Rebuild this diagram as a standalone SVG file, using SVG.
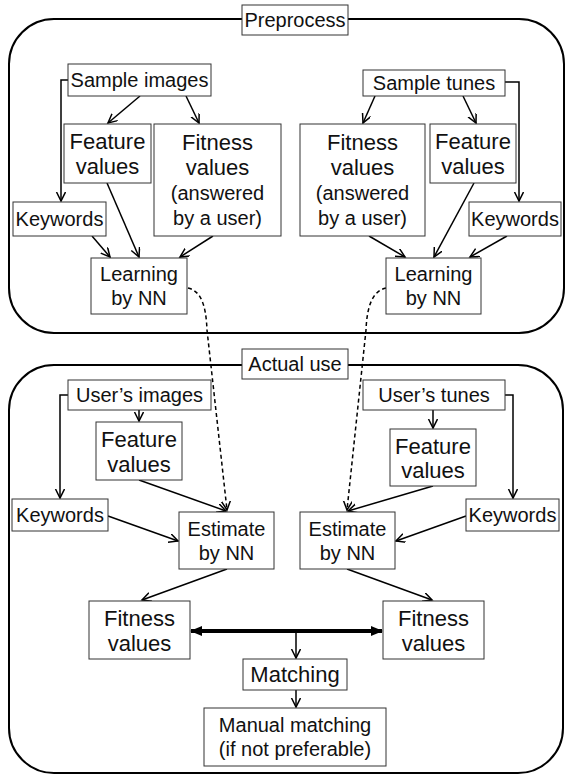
<svg xmlns="http://www.w3.org/2000/svg" width="567" height="775" viewBox="0 0 567 775">
  <defs>
    <style>
      .frame { fill: none; stroke: #000; stroke-width: 2; }
      .box { fill: #fff; stroke: #333; stroke-width: 1; }
      .t { font-family: "Liberation Sans", Arial, sans-serif; fill: #111; text-anchor: middle; }
      .s20 { font-size: 20px; }
      .s22 { font-size: 22px; }
      .c { fill: none; stroke: #000; stroke-width: 1.5; }
      .dash { stroke-dasharray: 4 3; }
      .thick { fill: none; stroke: #000; stroke-width: 4; }
    </style>
    <marker id="ah" markerUnits="userSpaceOnUse" markerWidth="12" markerHeight="12" refX="9" refY="4.5" orient="auto">
      <path d="M0,0 L9,4.5 L0,9" fill="none" stroke="#000" stroke-width="1.5"/>
    </marker>
    <marker id="bh" markerUnits="userSpaceOnUse" markerWidth="14" markerHeight="12" refX="11" refY="5" orient="auto-start-reverse">
      <path d="M0,0 L12,5 L0,10 z" fill="#000"/>
    </marker>
  </defs>

  <!-- stage frames -->
  <g id="stage-preprocess">
    <rect class="frame" x="9" y="19" width="555" height="314" rx="45" ry="45"/>
    <rect class="box" x="242" y="5" width="106" height="30"/>
    <text class="t s20" x="295" y="27">Preprocess</text>
  </g>
  <g id="stage-actual">
    <rect class="frame" x="9" y="365" width="554" height="408" rx="45" ry="45"/>
    <rect class="box" x="242" y="349" width="106" height="30"/>
    <text class="t s20" x="295" y="371">Actual use</text>
  </g>

  <!-- connectors -->
  <g id="connectors">
    <!-- preprocess, images -->
    <polyline class="c" points="68,80 61,80 61,201" marker-end="url(#ah)"/>
    <line class="c" x1="140" y1="96" x2="108" y2="123" marker-end="url(#ah)"/>
    <line class="c" x1="186" y1="96" x2="199" y2="123" marker-end="url(#ah)"/>
    <line class="c" x1="92" y1="236" x2="110" y2="257" marker-end="url(#ah)"/>
    <line class="c" x1="107" y1="183" x2="139" y2="257" marker-end="url(#ah)"/>
    <line class="c" x1="213" y1="236" x2="180" y2="257" marker-end="url(#ah)"/>
    <!-- preprocess, tunes -->
    <polyline class="c" points="505,82 519,82 519,201" marker-end="url(#ah)"/>
    <line class="c" x1="375" y1="96" x2="363" y2="123" marker-end="url(#ah)"/>
    <line class="c" x1="463" y1="96" x2="476" y2="123" marker-end="url(#ah)"/>
    <line class="c" x1="369" y1="236" x2="405" y2="257" marker-end="url(#ah)"/>
    <line class="c" x1="474" y1="183" x2="434" y2="257" marker-end="url(#ah)"/>
    <line class="c" x1="507" y1="236" x2="470" y2="257" marker-end="url(#ah)"/>
    <!-- trained networks carried into actual use -->
    <path class="c dash" d="M188,288 C201,291 206,305 207,330 L227,510" marker-end="url(#ah)"/>
    <path class="c dash" d="M386,288 C373,291 367,305 366,330 L347,510" marker-end="url(#ah)"/>
    <!-- actual use, images -->
    <line class="c" x1="139" y1="410" x2="139" y2="421" marker-end="url(#ah)"/>
    <polyline class="c" points="68,395 60,395 60,498" marker-end="url(#ah)"/>
    <line class="c" x1="139" y1="480" x2="226" y2="511" marker-end="url(#ah)"/>
    <line class="c" x1="108" y1="516" x2="178" y2="541" marker-end="url(#ah)"/>
    <line class="c" x1="227" y1="569" x2="142" y2="600" marker-end="url(#ah)"/>
    <!-- actual use, tunes -->
    <line class="c" x1="433" y1="410" x2="433" y2="428" marker-end="url(#ah)"/>
    <polyline class="c" points="505,395 513,395 513,498" marker-end="url(#ah)"/>
    <line class="c" x1="433" y1="486" x2="348" y2="511" marker-end="url(#ah)"/>
    <line class="c" x1="466" y1="516" x2="396" y2="541" marker-end="url(#ah)"/>
    <line class="c" x1="347" y1="569" x2="432" y2="600" marker-end="url(#ah)"/>
    <!-- matching -->
    <line class="thick" x1="191" y1="631" x2="382" y2="631" marker-start="url(#bh)" marker-end="url(#bh)"/>
    <line class="c" x1="296" y1="631" x2="296" y2="658" marker-end="url(#ah)"/>
    <line class="c" x1="296" y1="690" x2="296" y2="707" marker-end="url(#ah)"/>
  </g>

  <!-- preprocess nodes -->
  <g id="sample-images">
    <rect class="box" x="68" y="64" width="143" height="32"/>
    <text class="t s20" x="139.5" y="87">Sample images</text>
  </g>
  <g id="feature-values-img">
    <rect class="box" x="64" y="124" width="87" height="59"/>
    <text class="t s22" x="107.5" y="149">Feature</text>
    <text class="t s22" x="107.5" y="174">values</text>
  </g>
  <g id="fitness-values-img">
    <rect class="box" x="154" y="124" width="127" height="112"/>
    <text class="t s22" x="217.5" y="150">Fitness</text>
    <text class="t s22" x="217.5" y="175">values</text>
    <text class="t s20" x="217.5" y="200">(answered</text>
    <text class="t s20" x="217.5" y="225">by a user)</text>
  </g>
  <g id="keywords-img">
    <rect class="box" x="13" y="202" width="93" height="34"/>
    <text class="t s20" x="59.5" y="226">Keywords</text>
  </g>
  <g id="learning-img">
    <rect class="box" x="91" y="258" width="96" height="56"/>
    <text class="t s20" x="139" y="281">Learning</text>
    <text class="t s20" x="139" y="305">by NN</text>
  </g>

  <g id="sample-tunes">
    <rect class="box" x="363" y="70" width="142" height="26"/>
    <text class="t s20" x="434" y="90">Sample tunes</text>
  </g>
  <g id="fitness-values-tune">
    <rect class="box" x="300" y="124" width="125" height="112"/>
    <text class="t s22" x="362.5" y="150">Fitness</text>
    <text class="t s22" x="362.5" y="175">values</text>
    <text class="t s20" x="362.5" y="200">(answered</text>
    <text class="t s20" x="362.5" y="225">by a user)</text>
  </g>
  <g id="feature-values-tune">
    <rect class="box" x="430" y="124" width="86" height="59"/>
    <text class="t s22" x="473" y="149">Feature</text>
    <text class="t s22" x="473" y="174">values</text>
  </g>
  <g id="keywords-tune">
    <rect class="box" x="469" y="202" width="92" height="34"/>
    <text class="t s20" x="515" y="226">Keywords</text>
  </g>
  <g id="learning-tune">
    <rect class="box" x="386" y="258" width="95" height="56"/>
    <text class="t s20" x="433.5" y="281">Learning</text>
    <text class="t s20" x="433.5" y="305">by NN</text>
  </g>

  <!-- actual use nodes -->
  <g id="users-images">
    <rect class="box" x="68" y="380" width="143" height="30"/>
    <text class="t s20" x="139.5" y="402">User’s images</text>
  </g>
  <g id="feature-values-user-img">
    <rect class="box" x="96" y="422" width="86" height="58"/>
    <text class="t s22" x="139" y="447">Feature</text>
    <text class="t s22" x="139" y="472">values</text>
  </g>
  <g id="keywords-user-img">
    <rect class="box" x="12" y="499" width="96" height="32"/>
    <text class="t s20" x="60" y="522">Keywords</text>
  </g>
  <g id="estimate-img">
    <rect class="box" x="179" y="512" width="95" height="57"/>
    <text class="t s20" x="226.5" y="536">Estimate</text>
    <text class="t s20" x="226.5" y="560">by NN</text>
  </g>
  <g id="fitness-img">
    <rect class="box" x="89" y="601" width="101" height="58"/>
    <text class="t s22" x="139.5" y="626">Fitness</text>
    <text class="t s22" x="139.5" y="651">values</text>
  </g>

  <g id="users-tunes">
    <rect class="box" x="363" y="380" width="142" height="30"/>
    <text class="t s20" x="434" y="402">User’s tunes</text>
  </g>
  <g id="feature-values-user-tune">
    <rect class="box" x="390" y="429" width="86" height="57"/>
    <text class="t s22" x="433" y="454">Feature</text>
    <text class="t s22" x="433" y="478">values</text>
  </g>
  <g id="keywords-user-tune">
    <rect class="box" x="466" y="499" width="93" height="32"/>
    <text class="t s20" x="512.5" y="522">Keywords</text>
  </g>
  <g id="estimate-tune">
    <rect class="box" x="300" y="512" width="95" height="57"/>
    <text class="t s20" x="347.5" y="536">Estimate</text>
    <text class="t s20" x="347.5" y="560">by NN</text>
  </g>
  <g id="fitness-tune">
    <rect class="box" x="383" y="601" width="101" height="58"/>
    <text class="t s22" x="433.5" y="626">Fitness</text>
    <text class="t s22" x="433.5" y="651">values</text>
  </g>

  <g id="matching">
    <rect class="box" x="243" y="659" width="104" height="31"/>
    <text class="t s22" x="295" y="682">Matching</text>
  </g>
  <g id="manual-matching">
    <rect class="box" x="204" y="708" width="182" height="58"/>
    <text class="t s20" x="295" y="732">Manual matching</text>
    <text class="t s20" x="295" y="756">(if not preferable)</text>
  </g>
</svg>
